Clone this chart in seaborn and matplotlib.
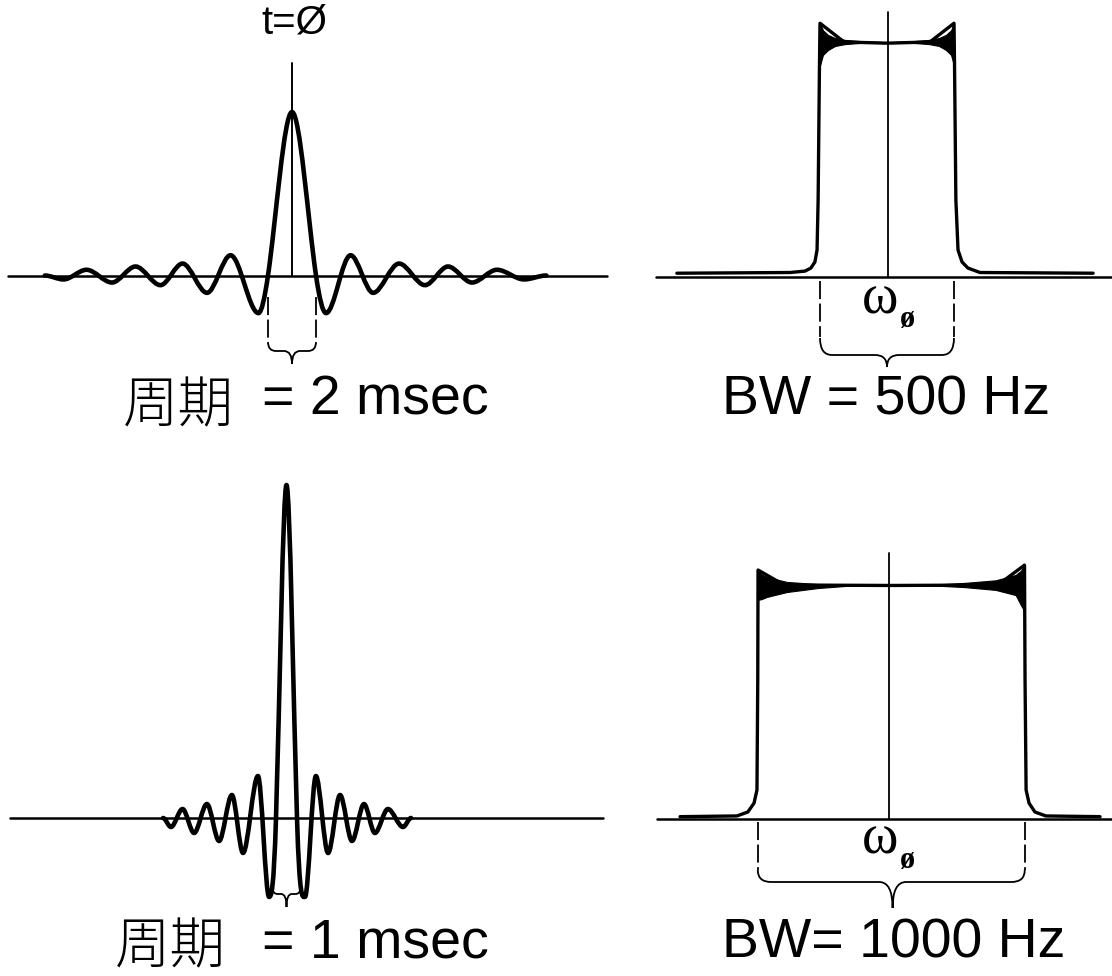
import numpy as np
import pandas as pd
import matplotlib
matplotlib.use("Agg")
import matplotlib.pyplot as plt
import seaborn as sns
from matplotlib.path import Path
from matplotlib.patches import PathPatch

# ---------------- data ----------------
# Top-left: sinc pulse, period 2 msec (time in msec, amplitude normalised to peak)
tl_time = [-10.3, -9.52, -8.56, -7.5, -6.52, -5.48, -4.56, -3.54, -2.56, -1.40, -1.0, 0.0,
           1.0, 1.42, 2.44, 3.38, 4.46, 5.54, 6.50, 7.50, 8.54, 9.67, 10.6]
tl_amp = [0.0, -0.024, 0.035, -0.043, 0.055, -0.059, 0.073, -0.106, 0.124, -0.23, 0.0, 1.0,
          0.0, -0.23, 0.124, -0.106, 0.073, -0.059, 0.055, -0.043, 0.035, -0.024, 0.0]
tl_slope = [0, 0, 0, 0, 0, 0, 0, 0, 0, 0, 1.0, 0, -1.0, 0, 0, 0, 0, 0, 0, 0, 0, 0, 0]

# Bottom-left: sinc pulse, period 1 msec
bl_time = [-5.88, -5.5, -4.95, -4.40, -3.79, -3.21, -2.60, -2.07, -1.36, -0.83, -0.5, 0.0,
           0.5, 0.88, 1.40, 1.98, 2.55, 3.12, 3.69, 4.21, 4.83, 5.55, 5.93]
bl_amp = [0.0, -0.027, 0.027, -0.045, 0.042, -0.069, 0.069, -0.105, 0.126, -0.237, 0.0, 1.0,
          0.0, -0.237, 0.126, -0.105, 0.069, -0.069, 0.042, -0.045, 0.027, -0.027, 0.0]
bl_slope = [0, 0, 0, 0, 0, 0, 0, 0, 0, 0, 2.0, 0, -2.0, 0, 0, 0, 0, 0, 0, 0, 0, 0, 0]

# Top-right: spectrum, BW = 500 Hz (frequency in Hz relative to w0)
tr_freq = [-784, -362, -306, -284, -269, -261, -257, -252, -250, -160, 0, 160, 250, 252,
           257, 265, 280, 302, 347, 769]
tr_amp = [0.014, 0.017, 0.023, 0.036, 0.062, 0.113, 0.326, 0.90, 1.08, 1.0, 0.995, 1.0, 1.08,
          0.90, 0.326, 0.113, 0.062, 0.036, 0.017, 0.014]
tr_ring_off = [0, 11, 30, 56, 93, 150, 224]
tr_ring_hi = [1.08, 1.05, 1.03, 1.017, 1.009, 1.004, 1.0]
tr_ring_lo = [0.90, 0.945, 0.966, 0.983, 0.991, 0.996, 1.0]

# Bottom-right: spectrum, BW = 1000 Hz
br_freq = [-790, -577, -536, -513, -502, -499, -498, -400, 0, 400, 500, 502, 506, 517,
           539, 580, 783]
br_amp = [0.010, 0.013, 0.030, 0.068, 0.124, 0.60, 1.064, 1.0, 0.998, 1.0, 1.085, 0.60,
          0.124, 0.068, 0.030, 0.013, 0.010]
br_ring_off = [0, 15, 34, 109, 225, 375]
br_ring_hi_l = [1.064, 1.045, 1.034, 1.013, 1.004, 1.0]
br_ring_lo_l = [0.936, 0.94, 0.949, 0.97, 0.987, 1.0]
br_ring_hi_r = [1.085, 1.06, 1.043, 1.02, 1.009, 1.0]
br_ring_lo_r = [0.885, 0.915, 0.957, 0.979, 0.991, 1.0]

labels_period = ["= 2 msec", "= 1 msec"]
labels_bw = ["BW = 500 Hz", "BW= 1000 Hz"]
label_cjk = "周期"

# ---------------- drawing ----------------
W, H = 1112, 976
sns.set_theme(style="white")
plt.rcParams['font.family'] = ['Liberation Sans', 'DejaVu Sans']
plt.rcParams['text.color'] = 'black'

fig = plt.figure(figsize=(W / 100, H / 100), dpi=100)
fig.patch.set_facecolor("white")


def panel(box, origin, sx, sy):
    x0, y0, x1, y1 = box
    cx, cy = origin
    ax = fig.add_axes([x0 / W, 1 - y1 / H, (x1 - x0) / W, (y1 - y0) / H])
    ax.set_xlim((x0 - cx) / sx, (x1 - cx) / sx)
    ax.set_ylim((cy - y1) / sy, (cy - y0) / sy)
    ax.axis("off")
    ax.patch.set_alpha(0)
    ax._px = (cx, cy, sx, sy)
    return ax


def yv(ax, py):
    cx, cy, sx, sy = ax._px
    return (cy - py) / sy


def xv(ax, px):
    cx, cy, sx, sy = ax._px
    return (px - cx) / sx


def hermite(ax, xs, ys, ms, lw):
    verts = [(xs[0], ys[0])]
    codes = [Path.MOVETO]
    for i in range(len(xs) - 1):
        h = xs[i + 1] - xs[i]
        verts += [(xs[i] + h / 3, ys[i] + ms[i] * h / 3),
                  (xs[i + 1] - h / 3, ys[i + 1] - ms[i + 1] * h / 3),
                  (xs[i + 1], ys[i + 1])]
        codes += [Path.CURVE4] * 3
    ax.add_patch(PathPatch(Path(verts, codes), fill=False, lw=lw, ec="black",
                           joinstyle="round", capstyle="round", zorder=3))


def brace(ax, xl, xr, xc, py0, py1, py2, r):
    y0, y1, y2 = yv(ax, py0), yv(ax, py1), yv(ax, py2)
    verts = [(xl, y0), (xl, y1), (xl + r, y1), (xc - r, y1), (xc, y1), (xc, y2),
             (xc, y1), (xc + r, y1), (xr - r, y1), (xr, y1), (xr, y0)]
    codes = [Path.MOVETO, Path.CURVE3, Path.CURVE3, Path.LINETO, Path.CURVE3, Path.CURVE3,
             Path.CURVE3, Path.CURVE3, Path.LINETO, Path.CURVE3, Path.CURVE3]
    ax.add_patch(PathPatch(Path(verts, codes), fill=False, lw=1.3, ec="black", zorder=3))


def dashed(ax, x, py0, py1):
    ax.plot([x, x], [yv(ax, py0), yv(ax, py1)], color="black", lw=1.3,
            linestyle=(0, (10, 2.5)), zorder=2)


# Top-left panel
ax1 = panel((0, 0, 620, 440), (292, 275.5), 24.0, 163.5)
ax1.plot([xv(ax1, 8), xv(ax1, 607)], [0, 0], color="black", lw=1.8, zorder=2)
ax1.plot([0, 0], [0, yv(ax1, 63)], color="black", lw=1.4, zorder=2)
hermite(ax1, tl_time, tl_amp, tl_slope, 3.3)
dashed(ax1, -1.0, 297, 340)
dashed(ax1, 1.0, 297, 340)
brace(ax1, -1.0, 1.0, 0.0, 342, 351, 364, xv(ax1, 300) - xv(ax1, 292))

# Bottom-left panel
ax3 = panel((0, 440, 620, 976), (286.5, 818), 21.0, 333.0)
ax3.plot([xv(ax3, 10), xv(ax3, 603)], [0, 0], color="black", lw=1.8, zorder=2)
hermite(ax3, bl_time, bl_amp, bl_slope, 3.3)
brace(ax3, -0.68, 0.68, 0.0, 886, 894, 907, 0.25)

# Top-right panel
ax2 = panel((620, 0, 1112, 440), (887, 276.5), 0.268, 234.5)
ax2.plot([xv(ax2, 656), xv(ax2, 1112)], [0, 0], color="black", lw=1.8, zorder=2)
ax2.plot([3.7, 3.7], [0, yv(ax2, 12)], color="black", lw=1.3, zorder=2)
sns.lineplot(x=tr_freq, y=tr_amp, ax=ax2, sort=False, estimator=None,
             color="black", lw=2.4, zorder=3)
off = np.array(tr_ring_off)
ax2.fill_between(-250 + off, tr_ring_lo, tr_ring_hi, color="black", lw=0.8, zorder=3)
ax2.fill_between(250 - off, tr_ring_lo, tr_ring_hi, color="black", lw=0.8, zorder=3)
dashed(ax2, -250, 281, 337)
dashed(ax2, 250, 281, 337)
brace(ax2, -250, 250, 0, 338, 355, 367, 45)

# Bottom-right panel
ax4 = panel((620, 440, 1112, 976), (891, 819), 0.267, 234.0)
ax4.plot([xv(ax4, 657), xv(ax4, 1112)], [0, 0], color="black", lw=1.8, zorder=2)
ax4.plot([-7, -7], [0, yv(ax4, 553)], color="black", lw=1.3, zorder=2)
sns.lineplot(x=br_freq, y=br_amp, ax=ax4, sort=False, estimator=None,
             color="black", lw=2.4, zorder=3)
off = np.array(br_ring_off)
ax4.fill_between(-499 + off, br_ring_lo_l, br_ring_hi_l, color="black", lw=0.8, zorder=3)
ax4.fill_between(501 - off, br_ring_lo_r, br_ring_hi_r, color="black", lw=0.8, zorder=3)
dashed(ax4, -499, 822, 870)
dashed(ax4, 501, 822, 870)
brace(ax4, -499, 501, 6, 870, 882, 908, 50)

for a in (ax2, ax4):
    if a.get_legend() is not None:
        a.get_legend().remove()

# ---------------- texts ----------------
def ftext(px, py, s, **kw):
    kw.setdefault("color", "black")
    fig.text(px / W, 1 - py / H, s, **kw)

ftext(294, 34, "t=Ø", fontsize=29, ha="center", va="baseline",
      family=["Liberation Sans", "DejaVu Sans"])

cjk = ["Noto Sans CJK JP", "Noto Sans CJK SC", "DejaVu Sans"]
ftext(123, 422, label_cjk, fontsize=40, ha="left", va="baseline", family=cjk, fontweight="light")
ftext(262, 415, labels_period[0], fontsize=40, ha="left", va="baseline")
ftext(115, 963, label_cjk, fontsize=40, ha="left", va="baseline", family=cjk, fontweight="light")
ftext(262, 958, labels_period[1], fontsize=40, ha="left", va="baseline")

ftext(886, 415, labels_bw[0], fontsize=40, ha="center", va="baseline")
ftext(894, 958, labels_bw[1], fontsize=40, ha="center", va="baseline")

serif = ["Liberation Serif", "DejaVu Serif"]
for base_w, base_o in ((313, 327), (853, 868)):
    ftext(862, base_w, "ω", fontsize=40, ha="left", va="baseline", family=serif)
    ftext(900, base_o, "ø", fontsize=22, ha="left", va="baseline", family=serif,
          fontweight="bold")

fig.savefig("out.png", dpi=100, facecolor="white")
